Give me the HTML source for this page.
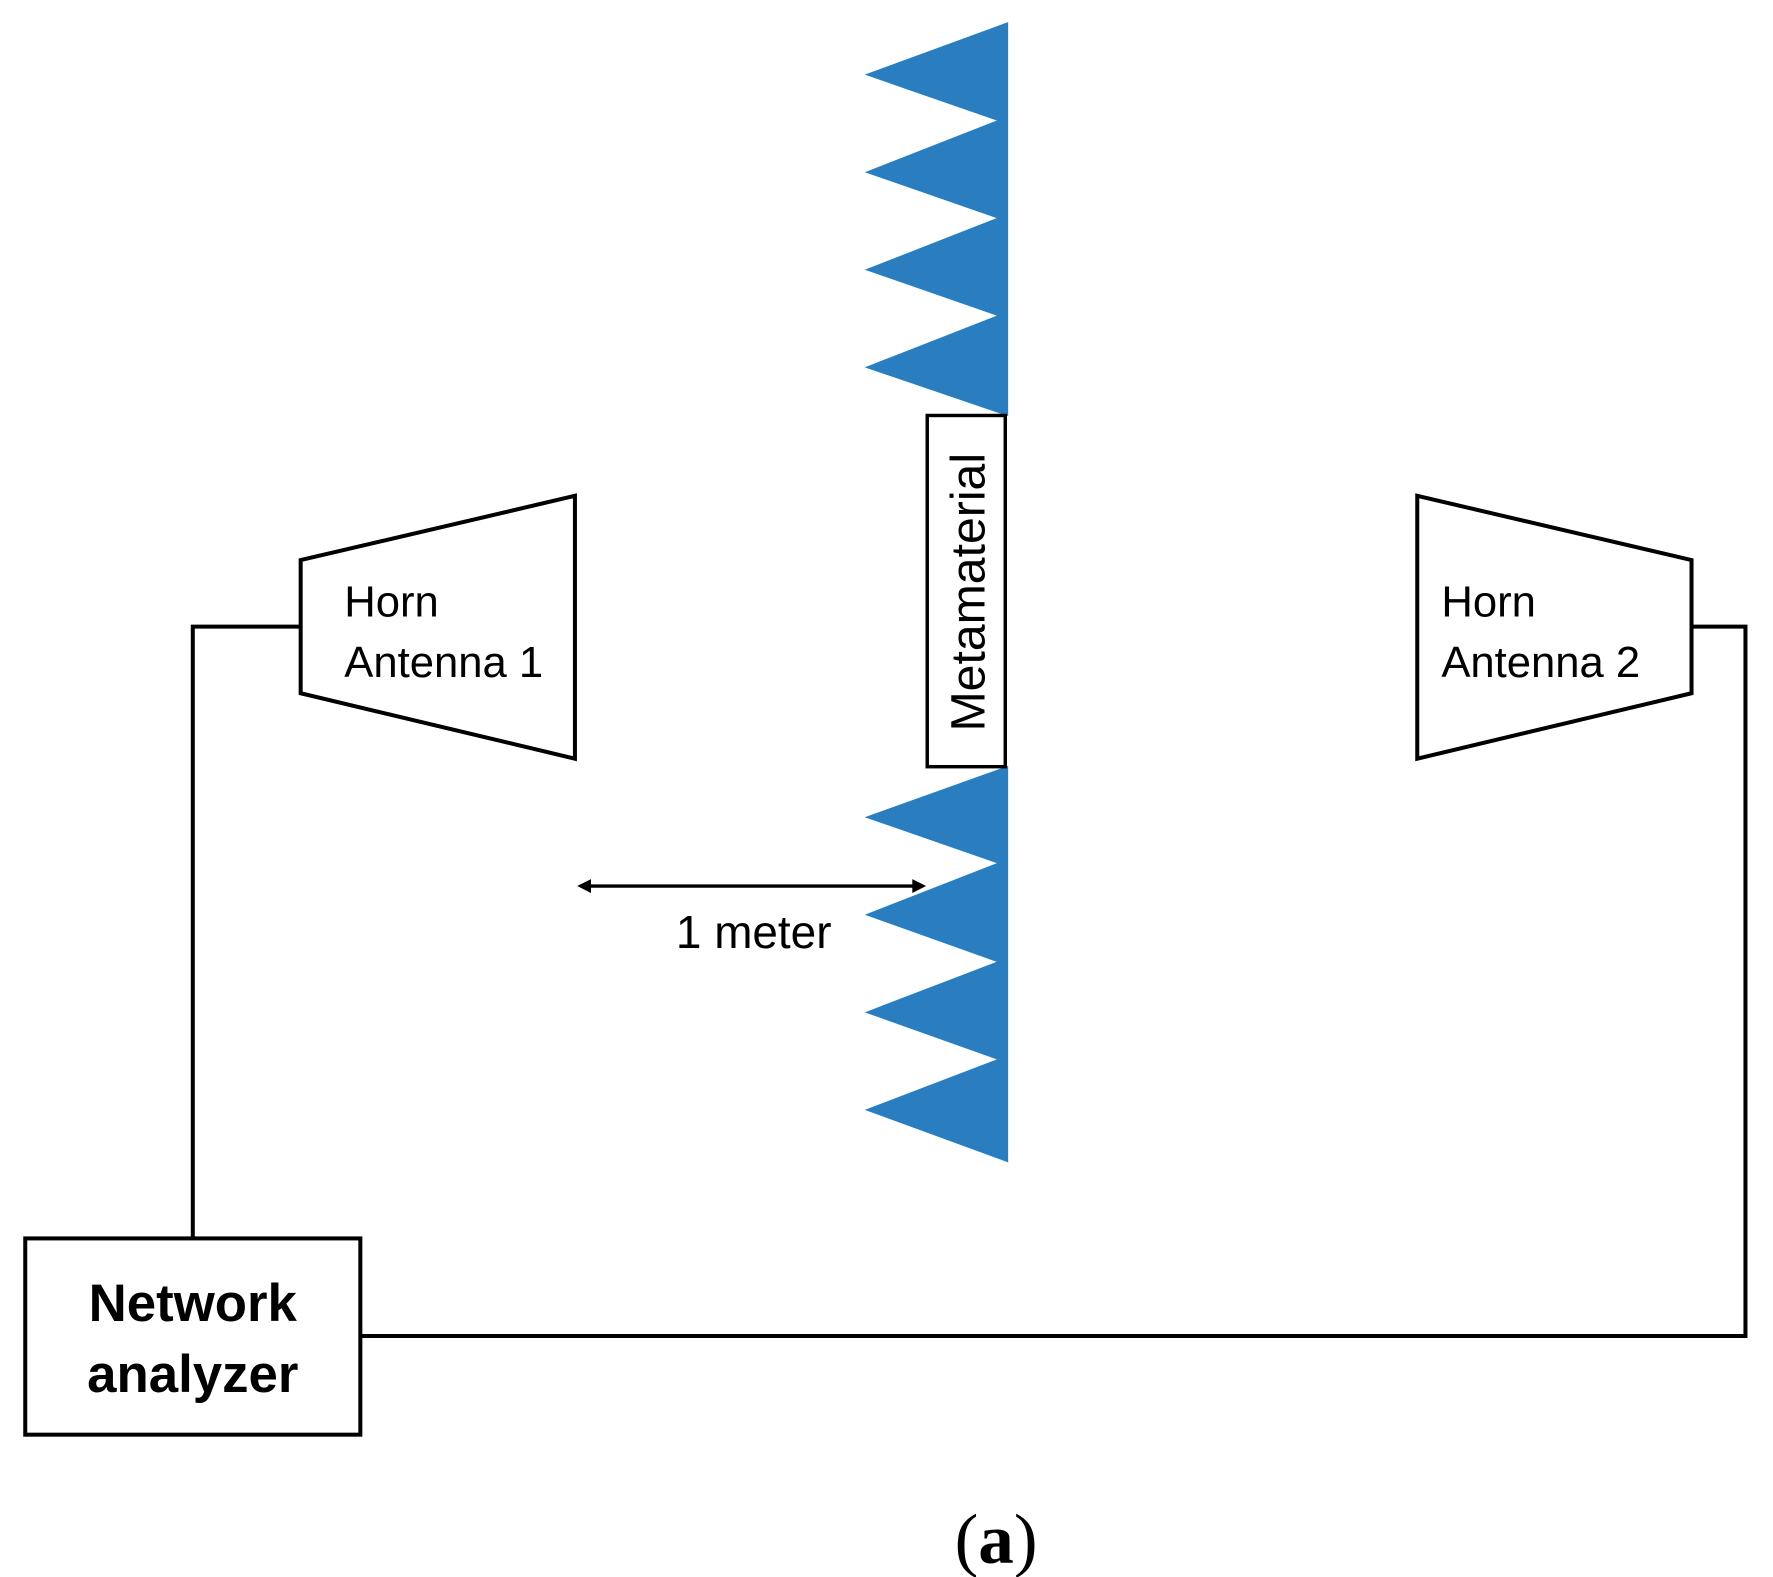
<!DOCTYPE html>
<html><head><style>html,body{margin:0;padding:0;background:#fff}svg{display:block}</style></head>
<body>
<svg width="1773" height="1577" viewBox="0 0 1545 1374" preserveAspectRatio="none" xmlns="http://www.w3.org/2000/svg">
<rect width="1545" height="1374" fill="#fff"/>
<g fill="#2a7ebf" stroke="#2a7ebf" stroke-width="1">
<polygon points="878,20 755,65 870,105 755,150 870,190 755,235 870,275 755,320 878,362"/>
<polygon points="878,668 755,712 870,752 755,797 870,838 755,882 870,923 755,967 878,1012"/>
</g>
<rect x="808" y="362" width="68" height="306" fill="#fff" stroke="#000" stroke-width="3"/>
<text transform="translate(858,516) rotate(-90)" text-anchor="middle" font-family="Liberation Sans, sans-serif" font-size="42" fill="#000">Metamaterial</text>
<g fill="#fff" stroke="#000" stroke-width="3.5">
<polygon points="262,488 501,432 501,661 262,604"/>
<polygon points="1235,432 1474,488 1474,604 1235,661"/>
<rect x="22" y="1079" width="292" height="171"/>
</g>
<g fill="none" stroke="#000" stroke-width="3.5">
<polyline points="262,546 168,546 168,1079"/>
<polyline points="1474,546 1521,546 1521,1164 314,1164"/>
</g>
<g font-family="Liberation Sans, sans-serif" font-size="38" fill="#000">
<text x="300" y="537">Horn</text>
<text x="300" y="590">Antenna 1</text>
<text x="1256" y="537">Horn</text>
<text x="1256" y="590">Antenna 2</text>
</g>
<text x="589" y="826" font-family="Liberation Sans, sans-serif" font-size="40" fill="#000">1 meter</text>
<g font-family="Liberation Sans, sans-serif" font-size="46" font-weight="bold" fill="#000" text-anchor="middle">
<text x="168" y="1151">Network</text>
<text x="168" y="1213">analyzer</text>
</g>
<line x1="512" y1="772" x2="798" y2="772" stroke="#000" stroke-width="3"/>
<polygon points="503,772 515,766 515,778" fill="#000"/>
<polygon points="807,772 795,766 795,778" fill="#000"/>
<text x="868" y="1362" text-anchor="middle" font-family="Liberation Serif, serif" font-size="62" fill="#000">(<tspan font-weight="bold">a</tspan>)</text>
</svg>
</body></html>
